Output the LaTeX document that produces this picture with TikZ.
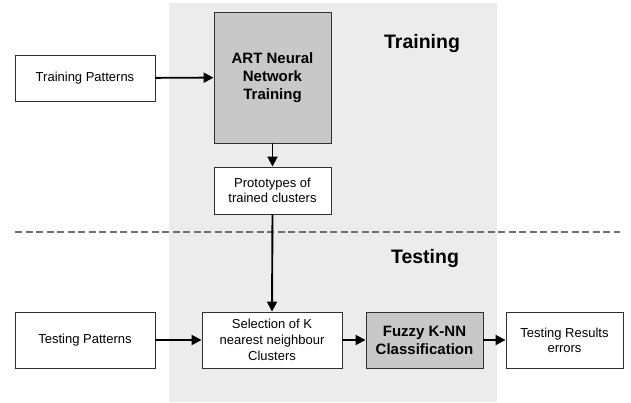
\documentclass[tikz,border=0pt]{standalone}
\usepackage{fontspec}
\setmainfont{Liberation Sans}
\usetikzlibrary{arrows.meta}
\definecolor{band}{HTML}{ECECEC}
\definecolor{boxgray}{HTML}{C8C8C8}
\definecolor{edge}{HTML}{303030}
\definecolor{sep}{HTML}{707070}
\tikzset{
  box/.style={draw=edge, line width=0.9pt, fill=white, align=center,
    inner sep=0pt, font=\fontsize{13}{15}\selectfont},
  darkbox/.style={box, fill=boxgray, font=\fontsize{15}{18}\selectfont\bfseries},
  flow/.style={line width=1.9pt, -{Triangle[length=10pt,width=10pt]}},
  phase/.style={font=\fontsize{19.5}{22}\selectfont\bfseries}
}
\begin{document}
\begin{tikzpicture}[x=1pt,y=-1pt]
  \useasboundingbox[fill=white] (0,0) rectangle (631,402);
  % shaded processing band
  \fill[band] (169,3) rectangle (497,402);
  % separator between the two phases
  \draw[sep, line width=1.2pt, dash pattern=on 7pt off 3.5pt] (15,232) -- (620,232);

  \node[phase] (train) at (422,43) {Training};
  \node[phase] (test) at (425,258) {Testing};

  \node[box, minimum width=140pt, minimum height=46pt] (tp) at (85,78) {Training Patterns};
  \node[darkbox, minimum width=117pt, minimum height=131pt] (art) at (272.5,77.5) {ART Neural\\Network\\Training};
  \node[box, minimum width=117pt, minimum height=47pt, font=\fontsize{13}{14.5}\selectfont] (proto) at (272.5,190.5) {Prototypes of\\trained clusters};

  \node[box, minimum width=140pt, minimum height=56pt] (tsp) at (85,340) {Testing Patterns};
  \node[box, minimum width=140pt, minimum height=56pt, font=\fontsize{13}{16}\selectfont] (sel) at (272,340) {Selection of K\\nearest neighbour\\Clusters};
  \node[darkbox, minimum width=117pt, minimum height=56pt] (fuzzy) at (424.5,340) {Fuzzy K-NN\\Classification};
  \node[box, minimum width=117pt, minimum height=56pt] (res) at (564.5,340) {Testing Results\\errors};

  \draw[flow] (tp) -- (art);
  \draw[flow] (art.south -| proto.north) -- (proto);
  \draw[flow] (proto.south) -- (sel.north);
  \draw[flow] (tsp) -- (sel);
  \draw[flow] (sel) -- (fuzzy);
  \draw[flow] (fuzzy) -- (res);
\end{tikzpicture}
\end{document}
